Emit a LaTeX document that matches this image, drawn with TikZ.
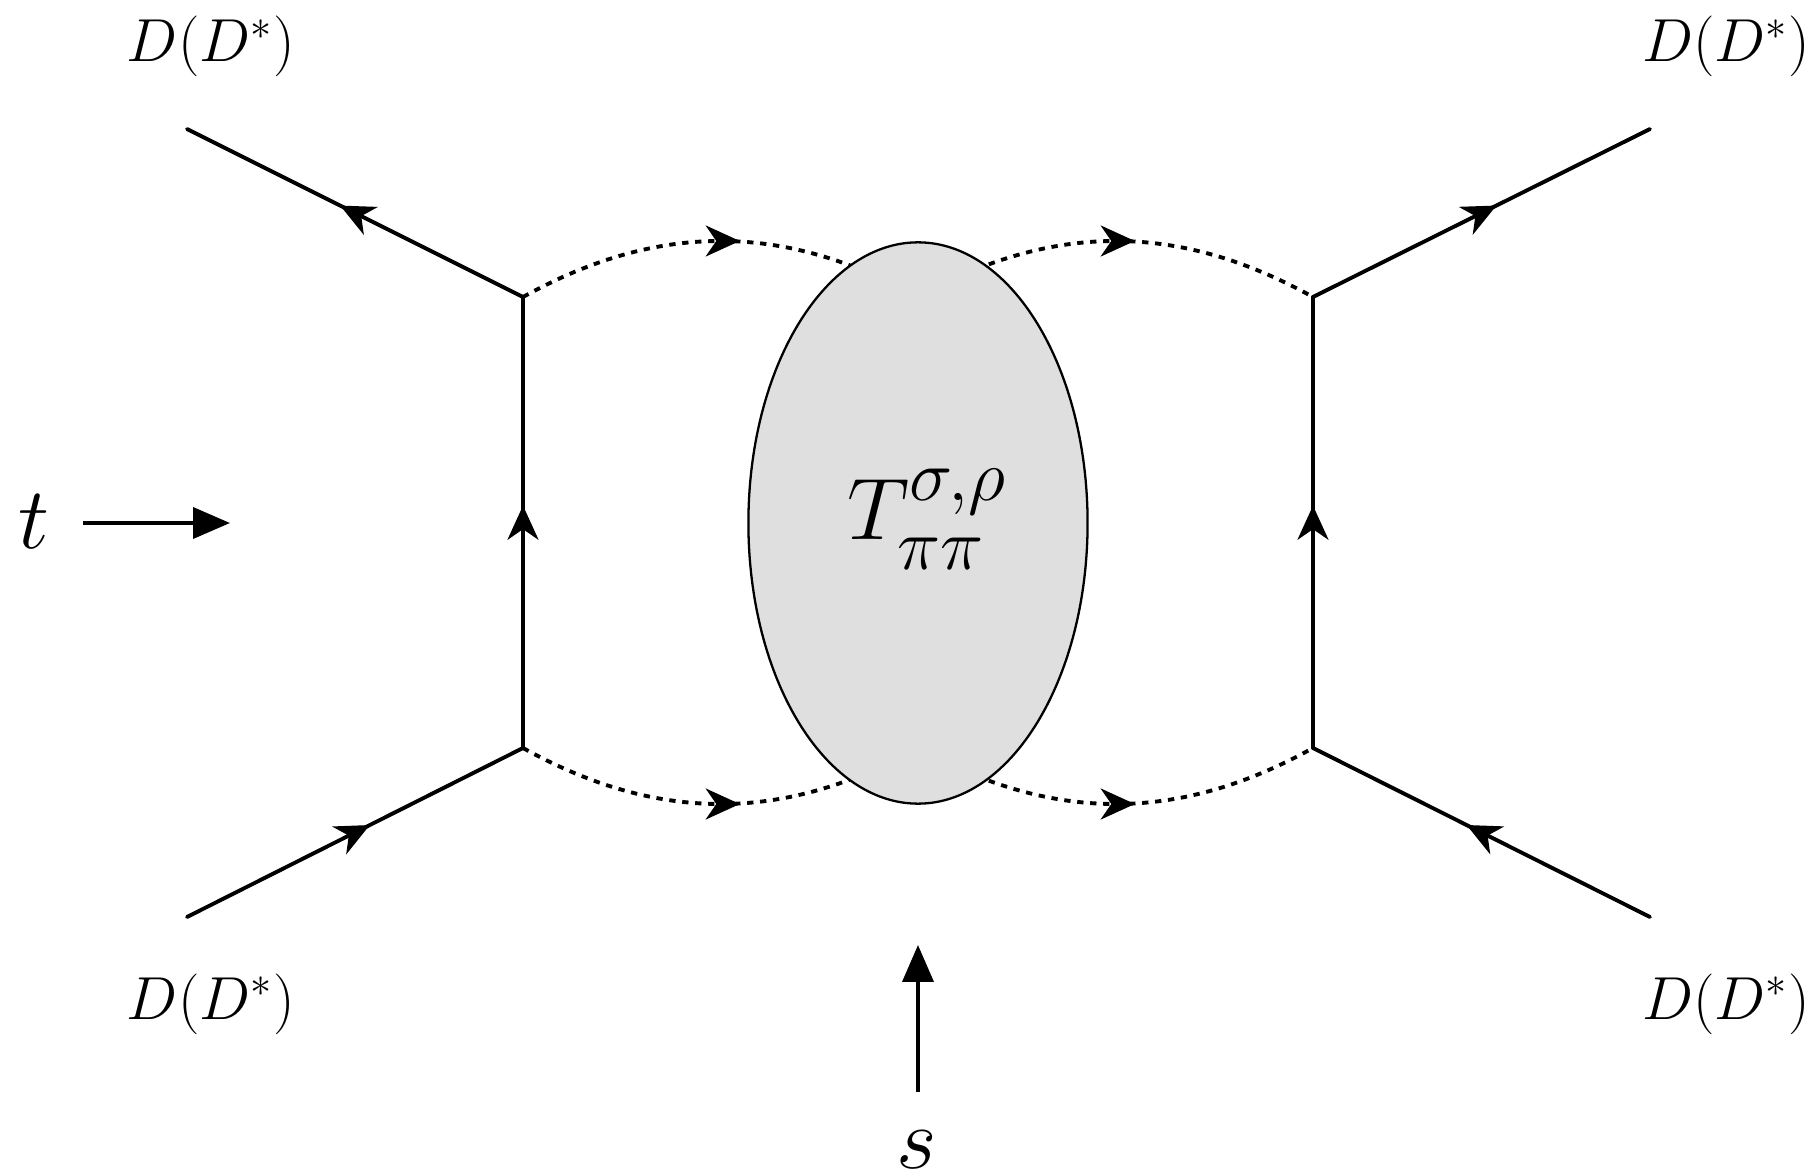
\documentclass[tikz,border=0pt]{standalone}
\usetikzlibrary{arrows.meta,decorations.markings,shapes.geometric}
\begin{document}
\begin{tikzpicture}[x=0.01cm,y=-0.01cm,
  fermion/.style={line width=1.1pt, line cap=round, postaction={decorate},
    decoration={markings, mark=at position 0.5 with {\arrow[xshift=4.8pt]{Stealth[length=9.7pt,width=8.8pt,inset=3pt]}}}},
  scalar/.style={line width=1.1pt, dash pattern=on 1.8pt off 1.9pt, postaction={decorate},
    decoration={markings, mark=at position 0.5 with {\arrow[xshift=5.5pt]{Stealth[length=9.7pt,width=8.8pt,inset=3pt]}}}},
  mom/.style={line width=1.1pt, -{Triangle[length=10.5pt,width=8.8pt]}},
  lbl/.style={anchor=base, inner sep=0pt, font=\LARGE},
  biglbl/.style={anchor=base, inner sep=0pt, font=\Huge},
  blobstyle/.style={ellipse, draw, line width=0.65pt, fill=gray!25, minimum width=3.39cm, minimum height=5.61cm, inner sep=0pt}
]
\fill[white] (0,0) rectangle (1820,1176);
\useasboundingbox (0,0) rectangle (1820,1176);

% vertices and external ends
\coordinate (LT) at (523,297);
\coordinate (LB) at (523,748);
\coordinate (RT) at (1313,297);
\coordinate (RB) at (1313,748);
\coordinate (eLT) at (187,129);
\coordinate (eLB) at (187,917);
\coordinate (eRT) at (1650,129);
\coordinate (eRB) at (1650,917);
\coordinate (bc) at (918,523);
\coordinate (bt) at (918,297);
\coordinate (bb) at (918,748);

% pion lines
\draw[scalar] (LT) to[bend left=29] (bt);
\draw[scalar] (bt) to[bend left=29] (RT);
\draw[scalar] (LB) to[bend right=29] (bb);
\draw[scalar] (bb) to[bend right=29] (RB);

% blob
\node[blobstyle] (blob) at (bc) {};
\node[biglbl] (T) at (927,539) {$T^{\raisebox{2pt}{$\scriptstyle\sigma,\rho$}}_{\raisebox{-2.5pt}{$\scriptstyle\pi\pi$}}$};

% D lines
\draw[fermion] (LT) -- (eLT);
\draw[fermion] (eLB) -- (LB);
\draw[fermion] (LB) -- (LT);
\draw[fermion] (RT) -- (eRT);
\draw[fermion] (eRB) -- (RB);
\draw[fermion] (RB) -- (RT);

% labels
\node[lbl] (dLT) at (211,62) {$D(D^*)$};
\node[lbl] (dRT) at (1726,62) {$D(D^*)$};
\node[lbl] (dLB) at (211,1019) {$D(D^*)$};
\node[lbl] (dRB) at (1726,1019) {$D(D^*)$};

% t channel
\node[biglbl] (t) at (34,548) {$t$};
\coordinate (ta) at (83,523);
\coordinate (tb) at (230,523);
\draw[mom] (ta) -- (tb);

% s channel
\node[biglbl] (s) at (917,1168) {$s$};
\coordinate (sa) at (918,1092);
\coordinate (sb) at (918,945);
\draw[mom] (sa) -- (sb);
\end{tikzpicture}
\end{document}
